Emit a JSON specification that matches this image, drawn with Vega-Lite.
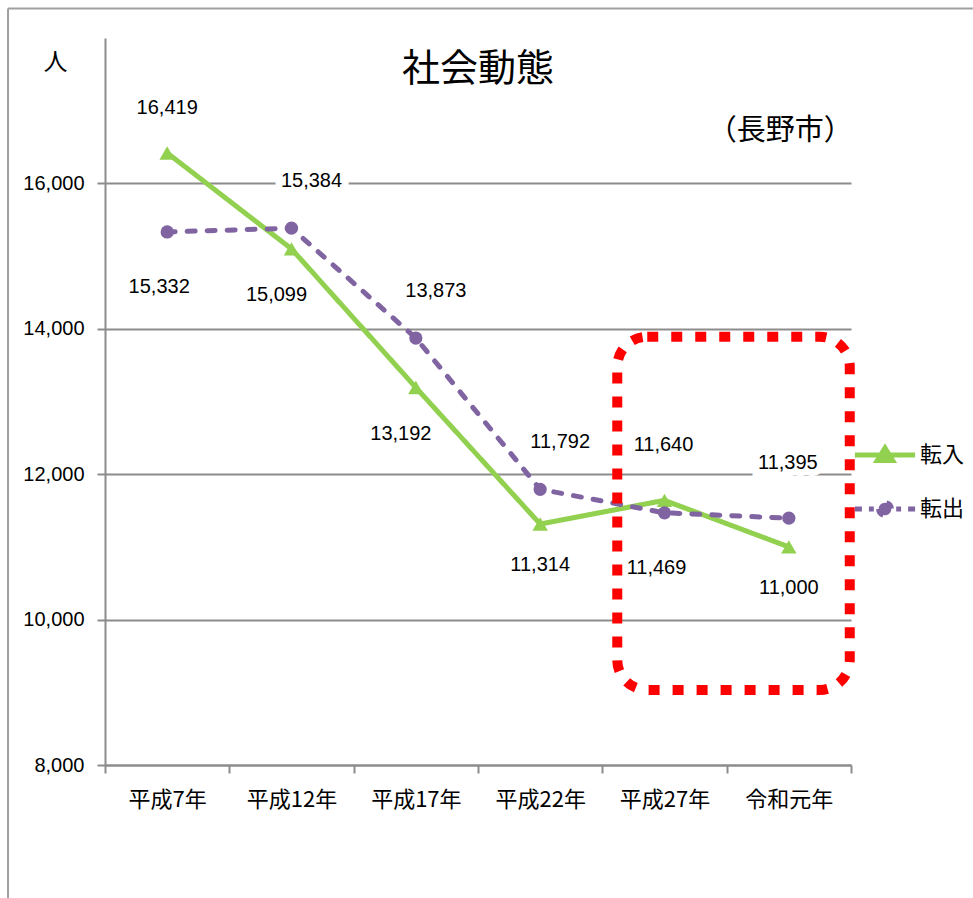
{
  "$schema": "https://vega.github.io/schema/vega-lite/v6.json",
  "width": 746,
  "height": 727,
  "autosize": {"type": "none"},
  "padding": {"left": 105, "top": 38, "right": 122, "bottom": 133},
  "background": "white",
  "config": {"view": {"stroke": null}, "font": "Noto Sans CJK JP"},
  "title": {"text": "社会動態", "fontSize": 38, "font": "Noto Sans CJK JP", "fontWeight": "normal", "color": "black", "anchor": "middle", "offset": -112, "baseline": "alphabetic"},
  "datasets": {
    "main": [
      {"year": "平成7年", "series": "転入", "value": 16419},
      {"year": "平成12年", "series": "転入", "value": 15099},
      {"year": "平成17年", "series": "転入", "value": 13192},
      {"year": "平成22年", "series": "転入", "value": 11314},
      {"year": "平成27年", "series": "転入", "value": 11640},
      {"year": "令和元年", "series": "転入", "value": 11000},
      {"year": "平成7年", "series": "転出", "value": 15332},
      {"year": "平成12年", "series": "転出", "value": 15384},
      {"year": "平成17年", "series": "転出", "value": 13873},
      {"year": "平成22年", "series": "転出", "value": 11792},
      {"year": "平成27年", "series": "転出", "value": 11469},
      {"year": "令和元年", "series": "転出", "value": 11395}
    ]
  },
  "layer": [
    {
      "data": {"name": "main"},
      "encoding": {
        "x": {
          "field": "year", "type": "ordinal",
          "sort": ["平成7年", "平成12年", "平成17年", "平成22年", "平成27年", "令和元年"],
          "scale": {"type": "band", "paddingInner": 0, "paddingOuter": 0},
          "axis": {"title": null, "labelAngle": 0, "domainColor": "#8c8c8c", "domainWidth": 2, "tickColor": "#8c8c8c", "tickWidth": 2, "tickSize": 8, "tickBand": "extent", "labelFont": "Noto Sans CJK JP", "labelFontSize": 22, "labelColor": "black", "labelPadding": 16, "grid": false}
        },
        "y": {
          "field": "value", "type": "quantitative",
          "scale": {"domain": [8000, 18000], "nice": false, "zero": false},
          "axis": {"title": "人", "titleAngle": 0, "titleX": -50, "titleY": 24, "titleAlign": "center", "titleBaseline": "middle", "titleFontSize": 24, "titleFont": "Noto Sans CJK JP", "titleFontWeight": "normal", "titleColor": "black", "values": [8000, 10000, 12000, 14000, 16000], "labelExpr": "format(datum.value, ',')", "labelFont": "Liberation Sans", "labelFontSize": 20, "labelColor": "black", "labelPadding": 13, "tickSize": 8, "tickColor": "#8c8c8c", "tickWidth": 2, "domainColor": "#8c8c8c", "domainWidth": 2, "grid": true, "gridColor": "#8c8c8c", "gridWidth": 2}
        }
      },
      "layer": [
        {
          "mark": {"type": "line", "strokeWidth": 5, "strokeCap": "round"},
          "encoding": {
            "color": {
              "field": "series", "type": "nominal",
              "scale": {"domain": ["転入", "転出"], "range": ["#92D050", "#8064A2"]},
              "legend": {
                "title": null, "orient": "none", "legendX": 769, "legendY": 406, "padding": 0,
                "symbolSize": 196, "symbolStrokeWidth": 5, "symbolOpacity": 1, "labelOffset": 24, "rowPadding": 21,
                "labelFont": "Noto Sans CJK JP", "labelFontSize": 22, "labelColor": "black"
              }
            },
            "strokeDash": {
              "field": "series", "type": "nominal",
              "scale": {"domain": ["転入", "転出"], "range": [[1, 0], [8, 12]]},
              "legend": null
            }
          }
        },
        {
          "transform": [{"filter": "datum.series === '転入'"}],
          "mark": {"type": "point", "shape": "triangle-up", "size": 240, "filled": true, "opacity": 1},
          "encoding": {
            "color": {"field": "series", "type": "nominal", "scale": {"domain": ["転入", "転出"], "range": ["#92D050", "#8064A2"]}}
          }
        },
        {
          "transform": [{"filter": "datum.series === '転出'"}],
          "mark": {"type": "point", "shape": "circle", "size": 175, "filled": true, "opacity": 1},
          "encoding": {
            "color": {"field": "series", "type": "nominal", "scale": {"domain": ["転入", "転出"], "range": ["#92D050", "#8064A2"]}}
          }
        },
        {
          "mark": {"type": "point", "filled": true, "opacity": 0, "strokeWidth": 5},
          "encoding": {
            "color": {"field": "series", "type": "nominal", "scale": {"domain": ["転入", "転出"], "range": ["#92D050", "#8064A2"]}},
            "shape": {
              "field": "series", "type": "nominal",
              "scale": {"domain": ["転入", "転出"], "range": ["M-4.3,0L4.3,0M0,-1L1.1,0.8L-1.1,0.8Z", "M-4.3,0H-3.3M-2.3,0H-1.6M1.6,0H2.3M3.3,0H4.3M-0.9,0A0.9,0.9,0,1,0,0.9,0A0.9,0.9,0,1,0,-0.9,0Z"]},
              "legend": {
                "title": null, "orient": "none", "legendX": 769, "legendY": 406, "padding": 0,
                "symbolSize": 196, "symbolStrokeWidth": 5, "symbolOpacity": 1, "labelOffset": 24, "rowPadding": 21,
                "labelFont": "Noto Sans CJK JP", "labelFontSize": 22, "labelColor": "black"
              }
            }
          }
        },
        {
          "transform": [{"filter": "datum.series === '転入' && datum.year === '平成7年'"}],
          "mark": {"type": "text", "font": "Liberation Sans", "fontSize": 20, "color": "black", "align": "center", "baseline": "middle", "dx": 0, "dy": -45},
          "encoding": {"text": {"field": "value", "type": "quantitative", "format": ","}}
        },
        {
          "transform": [{"filter": "(datum.series === '転入' && datum.year === '平成27年') || (datum.series === '転出' && datum.year === '令和元年')"}],
          "mark": {"type": "text", "font": "Liberation Sans", "fontSize": 20, "fill": "white", "stroke": "white", "strokeWidth": 14, "align": "center", "baseline": "middle", "dx": -1, "dy": -55},
          "encoding": {"text": {"field": "value", "type": "quantitative", "format": ","}}
        },
        {
          "transform": [{"filter": "(datum.series === '転入' && datum.year === '平成27年') || (datum.series === '転出' && datum.year === '令和元年')"}],
          "mark": {"type": "text", "font": "Liberation Sans", "fontSize": 20, "color": "black", "align": "center", "baseline": "middle", "dx": -1, "dy": -55},
          "encoding": {"text": {"field": "value", "type": "quantitative", "format": ","}}
        },
        {
          "transform": [{"filter": "datum.series === '転出' && (datum.year === '平成12年' || datum.year === '平成17年' || datum.year === '平成22年')"}],
          "mark": {"type": "text", "font": "Liberation Sans", "fontSize": 20, "fill": "white", "stroke": "white", "strokeWidth": 14, "align": "center", "baseline": "middle", "dx": 20, "dy": -47},
          "encoding": {"text": {"field": "value", "type": "quantitative", "format": ","}}
        },
        {
          "transform": [{"filter": "datum.series === '転出' && (datum.year === '平成12年' || datum.year === '平成17年' || datum.year === '平成22年')"}],
          "mark": {"type": "text", "font": "Liberation Sans", "fontSize": 20, "color": "black", "align": "center", "baseline": "middle", "dx": 20, "dy": -47},
          "encoding": {"text": {"field": "value", "type": "quantitative", "format": ","}}
        },
        {
          "transform": [{"filter": "datum.series === '転出' && (datum.year === '平成7年' || datum.year === '平成27年')"}],
          "mark": {"type": "text", "font": "Liberation Sans", "fontSize": 20, "color": "black", "align": "center", "baseline": "middle", "dx": -8, "dy": 55},
          "encoding": {"text": {"field": "value", "type": "quantitative", "format": ","}}
        },
        {
          "transform": [{"filter": "datum.series === '転入' && (datum.year === '平成12年' || datum.year === '平成17年')"}],
          "mark": {"type": "text", "font": "Liberation Sans", "fontSize": 20, "color": "black", "align": "center", "baseline": "middle", "dx": -15, "dy": 46},
          "encoding": {"text": {"field": "value", "type": "quantitative", "format": ","}}
        },
        {
          "transform": [{"filter": "datum.series === '転入' && (datum.year === '平成22年' || datum.year === '令和元年')"}],
          "mark": {"type": "text", "font": "Liberation Sans", "fontSize": 20, "color": "black", "align": "center", "baseline": "middle", "dx": 0, "dy": 41},
          "encoding": {"text": {"field": "value", "type": "quantitative", "format": ","}}
        }
      ]
    },
    {
      "data": {"values": [{}]},
      "layer": [
        {
          "mark": {"type": "rect", "filled": false, "stroke": "#FF0000", "strokeWidth": 10, "strokeDash": [11, 13], "cornerRadius": 30},
          "encoding": {
            "x": {"datum": 4.12, "type": "quantitative", "scale": {"domain": [0, 6], "nice": false, "zero": false}, "axis": null},
            "x2": {"datum": 5.99},
            "y": {"datum": 13891, "type": "quantitative", "scale": {"domain": [8000, 18000], "nice": false, "zero": false}, "axis": null},
            "y2": {"datum": 9032}
          }
        },
        {
          "mark": {"type": "rule", "color": "#a0a0a0", "strokeWidth": 2},
          "encoding": {
            "x": {"datum": -0.78, "type": "quantitative", "scale": {"domain": [0, 6], "nice": false, "zero": false}, "axis": null},
            "x2": {"datum": 6.98},
            "y": {"datum": 18406, "type": "quantitative", "scale": {"domain": [8000, 18000], "nice": false, "zero": false}, "axis": null}
          }
        },
        {
          "mark": {"type": "rule", "color": "#a0a0a0", "strokeWidth": 2},
          "encoding": {
            "x": {"datum": -0.78, "type": "quantitative", "scale": {"domain": [0, 6], "nice": false, "zero": false}, "axis": null},
            "y": {"datum": 18406, "type": "quantitative", "scale": {"domain": [8000, 18000], "nice": false, "zero": false}, "axis": null},
            "y2": {"datum": 6169}
          }
        },
        {
          "mark": {"type": "text", "font": "Noto Sans CJK JP", "fontSize": 29, "color": "black", "align": "center", "baseline": "middle"},
          "encoding": {
            "x": {"datum": 5.43, "type": "quantitative", "scale": {"domain": [0, 6], "nice": false, "zero": false}, "axis": null},
            "y": {"datum": 16727, "type": "quantitative", "scale": {"domain": [8000, 18000], "nice": false, "zero": false}, "axis": null},
            "text": {"value": "（長野市）"}
          }
        }
      ]
    }
  ],
  "resolve": {"scale": {"x": "independent"}, "axis": {"x": "independent", "y": "independent"}}
}
